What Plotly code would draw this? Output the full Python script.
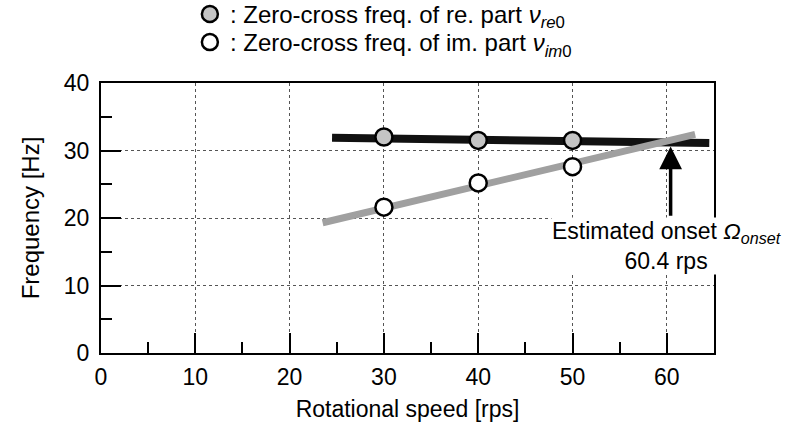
import plotly.graph_objects as go

speed = [30, 40, 50]
re_freq = [32.0, 31.5, 31.5]
im_freq = [21.6, 25.2, 27.6]

re_fit_x = [24.5, 64.5]
re_fit_y = [31.9, 31.1]
im_fit_x = [23.5, 63.0]
im_fit_y = [19.3, 32.4]

onset_speed = 60.4
onset_freq = 30.6
arrow_tail_freq = 20.1

FONT = "Liberation Sans"

fig = go.Figure()
fig.add_trace(go.Scatter(x=re_fit_x, y=re_fit_y, mode="lines",
                         line=dict(color="#111111", width=8), showlegend=False))
fig.add_trace(go.Scatter(x=im_fit_x, y=im_fit_y, mode="lines",
                         line=dict(color="#a0a0a0", width=7), showlegend=False))
fig.add_trace(go.Scatter(x=speed, y=re_freq, mode="markers", legend="legend",
                         name=": Zero-cross freq. of re. part <i>ν</i><sub><i>re</i>0</sub>",
                         marker=dict(size=17, color="#c4c4c4", line=dict(color="black", width=2.5))))
fig.add_trace(go.Scatter(x=speed, y=im_freq, mode="markers", legend="legend2",
                         name=": Zero-cross freq. of im. part <i>ν</i><sub><i>im</i>0</sub>",
                         marker=dict(size=17, color="white", line=dict(color="black", width=2.5))))

fig.add_annotation(x=onset_speed, y=onset_freq, ax=onset_speed, ay=arrow_tail_freq,
                   xref="x", yref="y", axref="x", ayref="y", text="",
                   showarrow=True, arrowhead=2, arrowsize=1.3, arrowwidth=3.5, arrowcolor="black")
fig.add_annotation(x=60.0, y=20.1, xref="x", yref="y", showarrow=False,
                   text="Estimated onset <i>Ω</i><sub><i>onset</i></sub><br>60.4 rps",
                   font=dict(family=FONT, size=23, color="black"), align="center",
                   xanchor="center", yanchor="top", bgcolor="white", borderpad=0)

axis_common = dict(showline=True, linecolor="black", linewidth=2, mirror=True,
                   ticks="inside", ticklen=20, tickwidth=2, tickcolor="black",
                   showgrid=True, gridcolor="#555555", gridwidth=1, griddash="dot",
                   zeroline=False, automargin=False,
                   tickfont=dict(family=FONT, size=23, color="black"))

fig.update_xaxes(range=[0, 65], tickvals=[0, 10, 20, 30, 40, 50, 60],
                 minor=dict(tickvals=[5, 15, 25, 35, 45, 55], ticks="inside", ticklen=11,
                            tickwidth=2, tickcolor="black", showgrid=False),
                 ticklabelstandoff=2,
                 title=dict(text="Rotational speed [rps]", font=dict(family=FONT, size=23, color="black"),
                            standoff=12),
                 **axis_common)
fig.update_yaxes(range=[0, 40], tickvals=[0, 10, 20, 30, 40],
                 minor=dict(tickvals=[5, 15, 25, 35], ticks="inside", ticklen=11,
                            tickwidth=2, tickcolor="black", showgrid=False),
                 ticklabelstandoff=5,
                 title=dict(text="Frequency [Hz]", font=dict(family=FONT, size=24, color="black"),
                            standoff=17),
                 **axis_common)

legend_common = dict(xanchor="left", yanchor="middle", bgcolor="rgba(0,0,0,0)",
                     itemwidth=30, borderwidth=0,
                     font=dict(family=FONT, size=24, color="black"))
fig.update_layout(width=792, height=423,
                  margin=dict(l=101, r=78, t=83, b=70, autoexpand=False),
                  plot_bgcolor="white", paper_bgcolor="white",
                  font=dict(family=FONT, size=18, color="black"),
                  legend=dict(x=0.145, y=1.254, **legend_common),
                  legend2=dict(x=0.145, y=1.150, **legend_common))

fig.write_html("out.html")
